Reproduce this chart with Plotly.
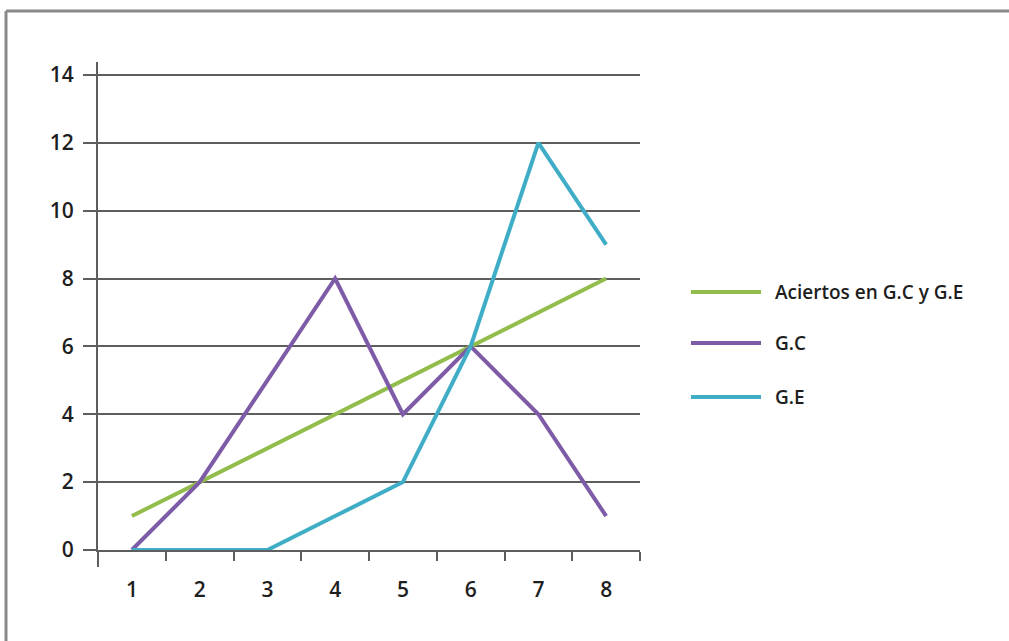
import plotly.graph_objects as go

categories = ["1", "2", "3", "4", "5", "6", "7", "8"]
aciertos = [1, 2, 3, 4, 5, 6, 7, 8]
gc = [0, 2, 5, 8, 4, 6, 4, 1]
ge = [0, 0, 0, 1, 2, 6, 12, 9]
series_names = ["Aciertos en G.C y G.E", "G.C", "G.E"]
y_ticks = [0, 2, 4, 6, 8, 10, 12, 14]

colors = ["#92bd4c", "#7d5ba6", "#40adc7"]
grid = "#5e5e5e"
font_family = "Open Sans, Lato, sans-serif"

W, H = 1009, 641
L, R, T, B = 98, 369, 62, 91

fig = go.Figure()
for name, vals, c in zip(series_names, [aciertos, gc, ge], colors):
    fig.add_trace(go.Scatter(x=categories, y=vals, mode="lines", name=name,
                             line=dict(color=c, width=4), showlegend=False))

plot_h = H - T - B
tickfont = dict(family=font_family, size=21, color="#1e1e1e", weight=600)
fig.update_layout(
    width=W, height=H,
    margin=dict(l=L, r=R, t=T, b=B),
    paper_bgcolor="white", plot_bgcolor="white",
    font=dict(family=font_family, size=21, color="#1e1e1e"),
    xaxis=dict(type="category", range=[-0.5, 7.5], showgrid=False,
               tickson="boundaries", ticks="outside", ticklen=9, tickwidth=2,
               tickcolor=grid, showline=True, linecolor=grid, linewidth=2,
               tickfont=tickfont, ticklabelstandoff=20, zeroline=False),
    yaxis=dict(range=[0, 14.38], tickvals=y_ticks, showgrid=True,
               gridcolor=grid, gridwidth=2, ticks="outside", ticklen=13,
               tickwidth=2, tickcolor=grid, showline=True, linecolor=grid,
               linewidth=2, zeroline=False, tickfont=tickfont,
               ticklabelstandoff=5),
)

# extension of the y axis line below zero
fig.add_shape(type="line", xref="paper", yref="paper", x0=0, x1=0,
              y0=0, y1=-17 / plot_h, line=dict(color=grid, width=2))

# outer frame (top and left edges)
fig.add_shape(type="line", xref="paper", yref="paper",
              x0=(6 - L) / (W - L - R), x1=(W - L) / (W - L - R),
              y0=(H - 11 - B) / plot_h, y1=(H - 11 - B) / plot_h,
              line=dict(color="#8a8a8a", width=3))
fig.add_shape(type="line", xref="paper", yref="paper",
              x0=(6 - L) / (W - L - R), x1=(6 - L) / (W - L - R),
              y0=(H - 11 - B) / plot_h, y1=-B / plot_h,
              line=dict(color="#8a8a8a", width=3))

# custom legend
pw = W - L - R
legend_rows = [292, 343, 397]
for name, c, yp in zip(series_names, colors, legend_rows):
    yy = (H - B - yp) / plot_h
    fig.add_shape(type="line", xref="paper", yref="paper",
                  x0=(691 - L) / pw, x1=(761 - L) / pw, y0=yy, y1=yy,
                  line=dict(color=c, width=4))
    fig.add_annotation(xref="paper", yref="paper", x=(773 - L) / pw, y=yy,
                       text=name, showarrow=False, xanchor="left",
                       yanchor="middle",
                       font=dict(size=19, color="#1e1e1e", weight=600))

fig.write_html("out.html")
